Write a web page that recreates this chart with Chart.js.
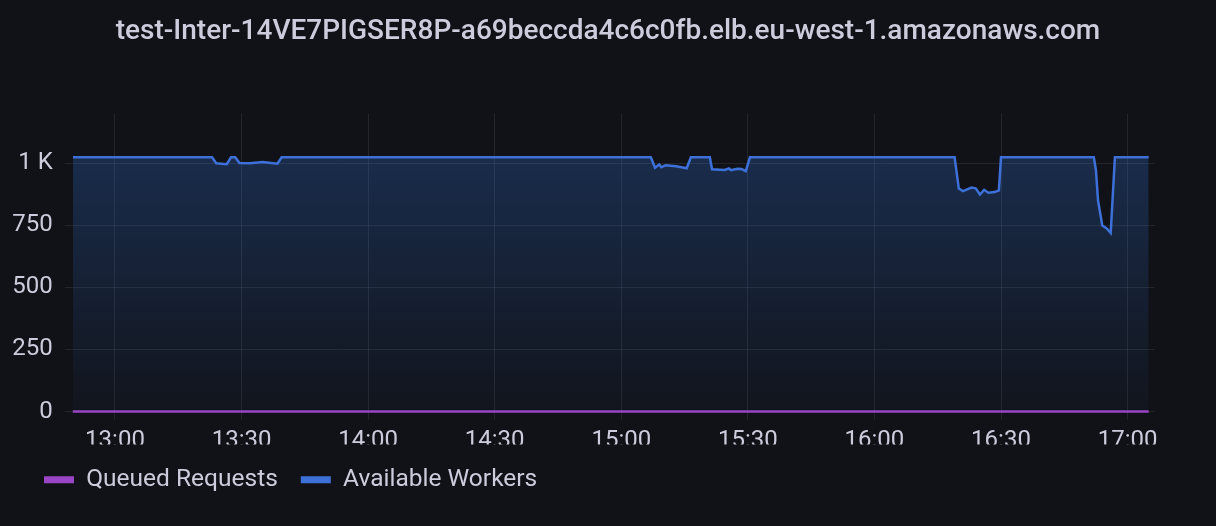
<!DOCTYPE html>
<html><head><meta charset="utf-8">
<script src="https://cdn.jsdelivr.net/npm/chart.js@4.4.1/dist/chart.umd.min.js"></script>
<style>html,body{margin:0;padding:0;background:#111217;overflow:hidden;} #wrap{width:1216px;height:526px;}</style>
</head><body><div id="wrap"><canvas id="c" width="1216" height="526"></canvas></div>
<script>
const chartTitle = 'test-Inter-14VE7PIGSER8P-a69beccda4c6c0fb.elb.eu-west-1.amazonaws.com';
const seriesNames = ['Queued Requests', 'Available Workers'];
const seriesColors = ['#9a45c6', '#3d71d9'];
// time in minutes after 12:00
const workerMinutes = [50, 83, 84, 86.5, 87.5, 88.5, 89.5, 92, 95, 97, 98.5, 99.5,
  187, 188, 189, 189.5, 190.5, 193, 195.5, 196.5,
  201, 201.5, 204.5, 205.5, 206, 207.5, 208.5, 209.5, 210.5,
  259, 260, 261, 263, 264, 265, 266, 267, 268.5, 269.5, 270,
  292, 292.5, 293, 294, 295, 296, 297, 305];
const availableWorkers = [1024, 1024, 1000, 996, 1024, 1024, 1001, 1000, 1005, 1001, 998, 1024,
  1024, 982, 995, 984, 992, 988, 980, 1024,
  1024, 976, 973, 979, 972, 978, 977, 968, 1024,
  1024, 898, 888, 902, 899, 874, 893, 881, 884, 891, 1024,
  1024, 972, 850, 749, 738, 719, 1024, 1024];
const queuedMinutes = [50, 305];
const queuedRequests = [0, 0];
const xTickMinutes = [60, 90, 120, 150, 180, 210, 240, 270, 300];
const xTickLabels = ['13:00', '13:30', '14:00', '14:30', '15:00', '15:30', '16:00', '16:30', '17:00'];
const yTickValues = [0, 250, 500, 750, 1000];
const yTickLabels = ['0', '250', '500', '750', '1 K'];

const textColor = 'rgb(204,204,220)';
const gridColor = 'rgba(204,204,220,0.10)';
const fontFamily = 'Roboto, "Noto Sans", sans-serif';

const legendShift = {
  id: 'legendShift',
  afterLayout(chart) {
    if (chart.legend) { chart.legend.left = 21; }
  }
};

function draw() {
  const ctx = document.getElementById('c').getContext('2d');
  new Chart(ctx, {
    type: 'line',
    data: {
      datasets: [
        {
          label: seriesNames[0],
          data: queuedMinutes.map((m, i) => ({x: m, y: queuedRequests[i]})),
          xAxisID: 'x', yAxisID: 'y',
          borderColor: seriesColors[0],
          backgroundColor: seriesColors[0],
          borderWidth: 2.5,
          pointRadius: 0,
          fill: false,
          clip: false,
          tension: 0
        },
        {
          label: seriesNames[1],
          data: workerMinutes.map((m, i) => ({x: m, y: availableWorkers[i]})),
          xAxisID: 'x', yAxisID: 'y',
          borderColor: seriesColors[1],
          borderWidth: 2.5,
          pointRadius: 0,
          tension: 0,
          fill: 'origin',
          backgroundColor: (c) => {
            const chart = c.chart;
            const area = chart.chartArea;
            if (!area) return 'rgba(50,116,217,0.2)';
            const top = chart.scales.y.getPixelForValue(Math.max(...availableWorkers));
            const g = chart.ctx.createLinearGradient(0, top, 0, area.bottom);
            g.addColorStop(0, 'rgba(50,116,217,0.27)');
            g.addColorStop(1, 'rgba(50,116,217,0.03)');
            return g;
          }
        }
      ]
    },
    plugins: [legendShift],
    options: {
      responsive: false,
      devicePixelRatio: 1,
      animation: false,
      layout: {padding: {left: 5, right: 5, top: 0, bottom: 24}},
      plugins: {
        title: {
          display: true,
          text: chartTitle,
          color: textColor,
          font: {family: fontFamily, size: 28, weight: '500'},
          padding: {top: 15.2, bottom: 64.8}
        },
        legend: {
          display: true,
          position: 'bottom',
          align: 'start',
          labels: {
            color: textColor,
            font: {family: fontFamily, size: 24.5},
            boxWidth: 30,
            boxHeight: 7,
            padding: 23,
            useBorderRadius: true,
            borderRadius: 2,
            generateLabels: (chart) => chart.data.datasets.map((d, i) => ({
              text: d.label,
              fillStyle: seriesColors[i],
              strokeStyle: seriesColors[i],
              lineWidth: 0,
              fontColor: textColor,
              datasetIndex: i,
              hidden: false
            }))
          }
        },
        tooltip: {enabled: false}
      },
      scales: {
        x: {
          type: 'linear',
          min: 50,
          max: 306.5,
          afterBuildTicks: (axis) => { axis.ticks = xTickMinutes.map(v => ({value: v})); },
          afterFit: (s) => { s.height = 33; },
          ticks: {
            callback: (v, i) => xTickLabels[i],
            color: textColor,
            font: {family: fontFamily, size: 24},
            padding: 7,
            maxRotation: 0,
            autoSkip: false
          },
          grid: {color: gridColor, tickLength: 8, drawTicks: true},
          border: {display: false}
        },
        y: {
          type: 'linear',
          min: 0,
          max: 1200,
          afterBuildTicks: (axis) => { axis.ticks = yTickValues.map(v => ({value: v})); },
          afterFit: (s) => { s.width = 67.8; },
          ticks: {
            callback: (v, i) => yTickLabels[i],
            color: textColor,
            font: {family: fontFamily, size: 24},
            padding: 12,
            autoSkip: false
          },
          grid: {color: gridColor, tickLength: 8, drawTicks: true},
          border: {display: false}
        },
        yRight: {
          type: 'linear',
          position: 'right',
          display: true,
          grid: {display: false, drawTicks: false},
          ticks: {display: false},
          border: {display: false},
          afterFit: (s) => { s.width = 56; }
        }
      }
    }
  });
}
if (document.fonts && document.fonts.load) {
  Promise.all([document.fonts.load('500 28px Roboto'), document.fonts.load('24px Roboto')]).then(draw, draw);
} else { draw(); }
</script>
</body></html>
